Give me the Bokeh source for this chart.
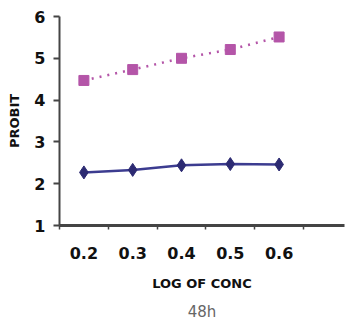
from bokeh.plotting import figure
from bokeh.models import FixedTicker, Range1d, Title
from bokeh.embed import file_html
from bokeh.resources import INLINE

categories = ["0.2", "0.3", "0.4", "0.5", "0.6"]
series_24h = [4.47, 4.73, 5.00, 5.21, 5.51]
series_48h = [2.27, 2.33, 2.44, 2.47, 2.46]
y_ticks = [1, 2, 3, 4, 5, 6]

xs = [i + 0.5 for i in range(len(categories))]

p = figure(width=345, height=318, output_backend="svg", toolbar_location=None,
           x_range=Range1d(0, 5.84), y_range=Range1d(1, 6),
           frame_width=285, frame_height=209,
           min_border_left=59, min_border_right=1, min_border_top=16, min_border_bottom=40)
p.outline_line_color = None
p.grid.grid_line_color = None
p.background_fill_color = "white"
p.border_fill_color = "white"

# series
p.line(xs, series_24h, line_color="#b455a8", line_width=2.5, line_dash="2 6")
p.scatter(xs, series_24h, marker="square", size=10, fill_color="#b455a8", line_color="#b455a8")
p.line(xs, series_48h, line_color="#3c3c90", line_width=2.5)
p.scatter(xs, series_48h, marker="diamond", size=13, fill_color="#2c2a72", line_color="#2c2a72")

BOLD = "DejaVu Sans"

# y axis
ya = p.yaxis[0]
ya.ticker = FixedTicker(ticks=y_ticks, minor_ticks=[])
ya.axis_line_color = "#444444"
ya.axis_line_width = 2
ya.major_tick_line_color = "#444444"
ya.major_tick_line_width = 2
ya.major_tick_out = 6
ya.major_tick_in = 0
ya.major_label_text_font = BOLD
ya.major_label_text_font_style = "bold"
ya.major_label_text_font_size = "16px"
ya.major_label_text_color = "#111111"
ya.major_label_standoff = 8
ya.axis_label = "PROBIT"
ya.axis_label_text_font = BOLD
ya.axis_label_text_font_style = "bold"
ya.axis_label_text_font_size = "13px"
ya.axis_label_text_color = "#111111"
ya.axis_label_standoff = 9

# x axis
xa = p.xaxis[0]
xa.ticker = FixedTicker(ticks=xs, minor_ticks=[0, 1, 2, 3, 4, 5])
xa.major_label_overrides = {x: c for x, c in zip(xs, categories)}
xa.axis_line_color = "#444444"
xa.axis_line_width = 3
xa.major_tick_line_color = None
xa.minor_tick_line_color = "#444444"
xa.minor_tick_line_width = 1.5
xa.minor_tick_out = 4
xa.minor_tick_in = 0
xa.major_label_text_font = BOLD
xa.major_label_text_font_style = "bold"
xa.major_label_text_font_size = "16px"
xa.major_label_text_color = "#111111"
xa.major_label_standoff = 15
xa.axis_label = "LOG OF CONC"
xa.axis_label_text_font = BOLD
xa.axis_label_text_font_style = "bold"
xa.axis_label_text_font_size = "13px"
xa.axis_label_text_color = "#111111"
xa.axis_label_standoff = 14

t = Title(text="48h", align="center", text_font="DejaVu Sans",
          text_font_size="15px", text_font_style="normal", text_color="#666666",
          standoff=14)
p.add_layout(t, "below")

open("out.html", "w").write(file_html(p, INLINE))
